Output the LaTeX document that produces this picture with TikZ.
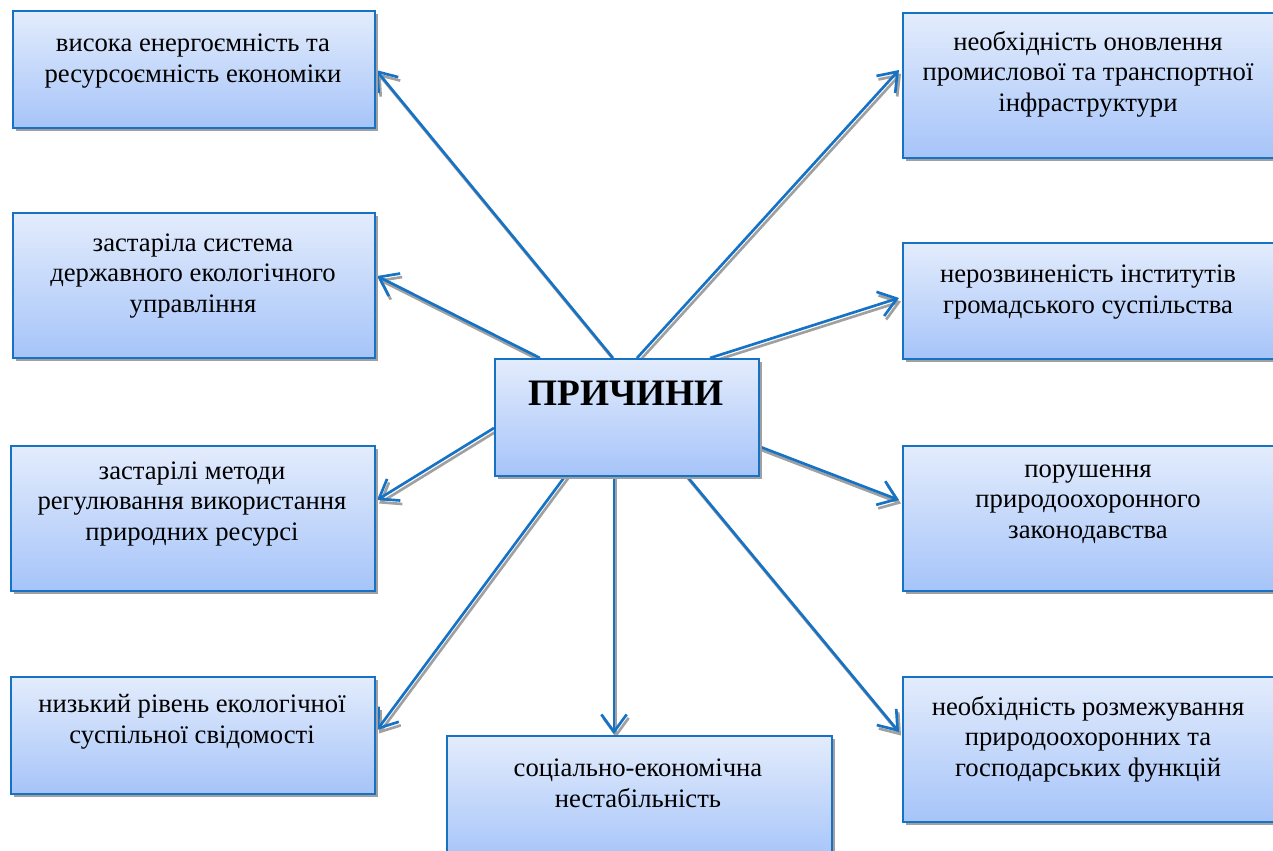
\documentclass[tikz,border=0pt]{standalone}
\usepackage{fontspec}
\setmainfont{Liberation Serif}
\usetikzlibrary{arrows.meta,shadows}
\definecolor{bblue}{RGB}{22,114,196}
\definecolor{btop}{RGB}{227,236,252}
\definecolor{bbot}{RGB}{166,196,249}
\definecolor{shgray}{RGB}{160,160,160}
\tikzset{
  box/.style={draw=bblue, line width=1.5pt, top color=btop, bottom color=bbot,
    inner sep=0pt, anchor=north west,
    drop shadow={shadow xshift=2.2pt, shadow yshift=-2.2pt, fill=shgray, opacity=1}},
  txt/.style={align=center, font=\fontsize{20pt}{23pt}\selectfont, inner sep=0pt},
  arr/.style={draw=bblue, line width=2pt, -{Straight Barb[length=13pt,width=19pt]}},
  arrsh/.style={draw=shgray, line width=2pt, -{Straight Barb[length=13pt,width=19pt]}}
}
\newcommand\mybox[6]{%
  \node[box, minimum width={(#4-#2)*0.75pt}, minimum height={(#5-#3)*0.75pt}] (#1) at (#2,#3) {};}
\newcommand\myconn[2]{%
  \draw[arrsh] ([shift={(2,3.5)}]#1) -- ([shift={(2,3.5)}]#2);
  \draw[arr] (#1) -- (#2);}
\begin{document}
\begin{tikzpicture}[x=0.75pt,y=-0.75pt]
\useasboundingbox (0,0) rectangle (1273,850);
\clip (0,0) rectangle (1273,850);
% connector end points
\coordinate (s1) at (613,358); \coordinate (e1) at (376,70);
\coordinate (s2) at (540,358); \coordinate (e2) at (377,276);
\coordinate (s3) at (494,428); \coordinate (e3) at (377,500);
\coordinate (s4) at (566,475); \coordinate (e4) at (377,730);
\coordinate (s5) at (614,475); \coordinate (e5) at (614,734);
\coordinate (s6) at (637,358); \coordinate (e6) at (899,70);
\coordinate (s7) at (710,358); \coordinate (e7) at (899,298);
\coordinate (s8) at (758,446); \coordinate (e8) at (899,500);
\coordinate (s9) at (686,475); \coordinate (e9) at (899,732);
\myconn{s1}{e1}
\myconn{s2}{e2}
\myconn{s3}{e3}
\myconn{s4}{e4}
\myconn{s5}{e5}
\myconn{s6}{e6}
\myconn{s7}{e7}
\myconn{s8}{e8}
\myconn{s9}{e9}
% boxes
\mybox{b1}{12}{10}{374}{127}{}
\mybox{b2}{12}{212}{374}{357}{}
\mybox{b3}{10}{445}{374}{590}{}
\mybox{b4}{10}{676}{374}{793}{}
\mybox{b5}{446}{735}{831}{860}{}
\mybox{b6}{902}{12}{1290}{157}{}
\mybox{b7}{902}{242}{1290}{358}{}
\mybox{b8}{902}{445}{1290}{590}{}
\mybox{b9}{902}{676}{1290}{821}{}
\mybox{c}{494}{358}{758}{475}{}
% texts
\node[txt] (t1) at (193,61) {висока енергоємність та\\ресурсоємність економіки};
\node[txt] (t2) at (193,276) {застаріла система\\державного екологічного\\управління};
\node[txt] (t3) at (192,504) {застарілі методи\\регулювання використання\\природних ресурсі};
\node[txt] (t4) at (192,722) {низький рівень екологічної\\суспільної свідомості};
\node[txt] (t5) at (638,783) {соціально-економічна\\нестабільність};
\node[txt] (t6) at (1088,74) {необхідність оновлення\\промислової та транспортної\\інфраструктури};
\node[txt] (t7) at (1088,292) {нерозвиненість інститутів\\громадського суспільства};
\node[txt] (t8) at (1088,504) {порушення\\природоохоронного\\законодавства};
\node[txt] (t9) at (1088,739) {необхідність розмежування\\природоохоронних та\\господарських функцій};
\node[font=\fontsize{28pt}{32pt}\selectfont\bfseries, inner sep=0pt] (tc) at (626,393) {ПРИЧИНИ};
\end{tikzpicture}
\end{document}
